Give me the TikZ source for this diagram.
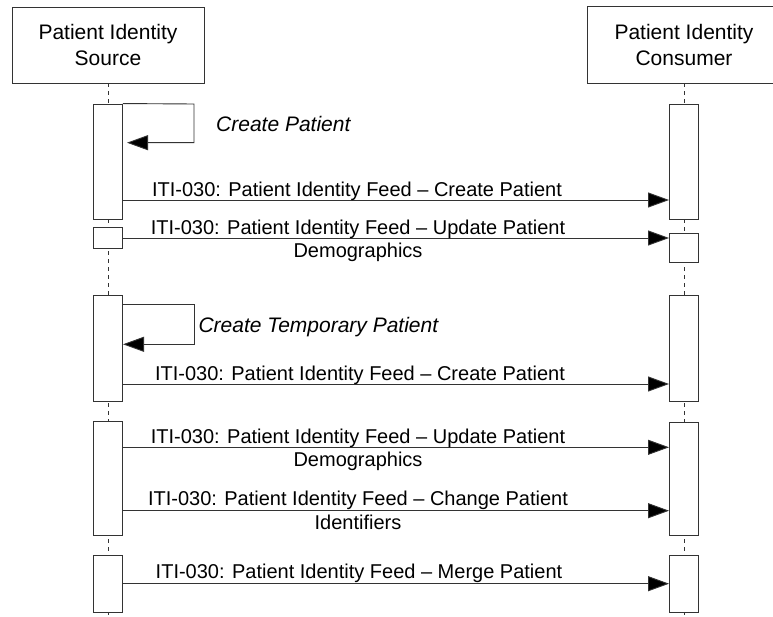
\documentclass[tikz,border=0pt]{standalone}
\usepackage{fontspec}
\setmainfont{Liberation Sans}
\usetikzlibrary{arrows.meta}
\begin{document}
\begin{tikzpicture}[x=1pt,y=-1pt,
  line/.style={draw=black!80, line width=0.9pt},
  head/.style={minimum width=192pt, minimum height=76pt, inner sep=0pt, align=center, font=\fontsize{21}{25.5}\selectfont},
  act/.style={line, fill=white, minimum width=29pt, inner sep=0pt},
  life/.style={line, dash pattern=on 4pt off 4pt},
  msg/.style={line, -{Triangle[length=21pt,width=15pt,fill=black]}},
  lbl/.style={font=\fontsize{20}{23.5}\selectfont, inner sep=0pt, anchor=base, align=center},
  ilbl/.style={font=\fontsize{21}{25}\selectfont\itshape, inner sep=0pt, anchor=base west}
]
\useasboundingbox (0,0) rectangle (773,617);
\clip (0,0) rectangle (773,617);
% headers
\node[head, line] (src) at (108,45) {Patient Identity\\Source};
\node[head] (con) at (684,45) {Patient Identity\\Consumer};
\draw[line] ([xshift=30pt]con.north east) -- (con.north west) -- (con.south west) -- ([xshift=30pt]con.south east);
% lifelines
\coordinate (srcEnd) at (108,617);
\coordinate (conEnd) at (684,617);
\draw[life] (src.south) -- (srcEnd);
\draw[life] (con.south) -- (conEnd);
% activations
\node[act, minimum height=115pt] (L1) at (108,161.5) {};
\node[act, minimum height=20.5pt] (L2) at (108,238.2) {};
\node[act, minimum height=105.3pt] (L3) at (108,348.4) {};
\node[act, minimum height=114pt] (L4) at (108,478.7) {};
\node[act, minimum height=57.3pt] (L5) at (108,583.7) {};
\node[act, minimum height=115pt] (R1) at (684,161.5) {};
\node[act, minimum height=29pt] (R2) at (684,247.5) {};
\node[act, minimum height=105.3pt] (R3) at (684,348.4) {};
\node[act, minimum height=113.4pt] (R4) at (684,479) {};
\node[act, minimum height=57.3pt] (R5) at (684,583.7) {};
% self messages
\coordinate (s1a) at (194,104);
\coordinate (s1b) at (194,142.7);
\coordinate (s1c) at (127,142.7);
\draw[msg] (L1.north east) -- (s1a) -- (s1b) -- (s1c);
\node[ilbl] (t1) at (216,131.7) {Create Patient};
\coordinate (s2o) at (122.5,304.3);
\coordinate (s2a) at (194,304.3);
\coordinate (s2b) at (194,344.3);
\coordinate (s2c) at (123,344.3);
\draw[msg] (s2o) -- (s2a) -- (s2b) -- (s2c);
\node[ilbl] (t2) at (198.3,333) {Create Temporary Patient};
% message levels
\coordinate (y1) at (0,200);
\coordinate (y2) at (0,238);
\coordinate (y3) at (0,384);
\coordinate (y4) at (0,447.3);
\coordinate (y5) at (0,510.7);
\coordinate (y6) at (0,583.7);
\draw[msg] (L1.east |- y1) -- (R1.west |- y1);
\draw[msg] (L2.east |- y2) -- (R2.west |- y2);
\draw[msg] (L3.east |- y3) -- (R3.west |- y3);
\draw[msg] (L4.east |- y4) -- (R4.west |- y4);
\draw[msg] (L4.east |- y5) -- (R4.west |- y5);
\draw[msg] (L5.east |- y6) -- (R5.west |- y6);
% labels (anchor base = baseline of last line)
\node[lbl] (m1) at (357,196.7) {ITI-030: Patient Identity Feed – Create Patient};
\node[lbl] (m2) at (358,258) {ITI-030: Patient Identity Feed – Update Patient\\Demographics};
\node[lbl] (m3) at (360,380) {ITI-030: Patient Identity Feed – Create Patient};
\node[lbl] (m4) at (358,466.8) {ITI-030: Patient Identity Feed – Update Patient\\Demographics};
\node[lbl] (m5) at (358,529) {ITI-030: Patient Identity Feed – Change Patient\\Identifiers};
\node[lbl] (m6) at (359,578.5) {ITI-030: Patient Identity Feed – Merge Patient};
\end{tikzpicture}
\end{document}
